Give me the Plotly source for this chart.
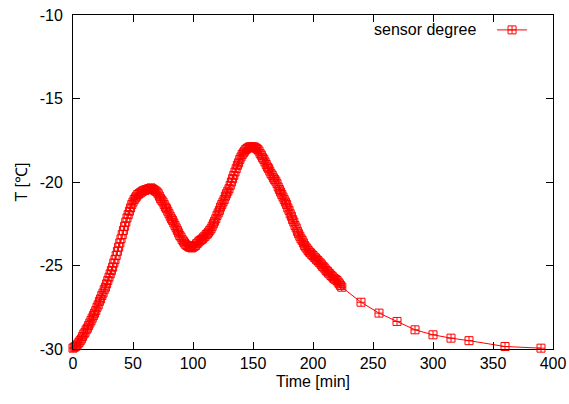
import plotly.graph_objects as go

# time in minutes: dense logging every minute up to 224 min, then sparse readings
time_dense = list(range(0, 225))
time_sparse = [240, 255, 270, 285, 300, 315, 330, 360, 390]

# temperature in degrees C (dense part, one value per minute)
temp_dense = [
    -29.95, -29.9, -29.85, -29.8, -29.7, -29.6, -29.5, -29.4, -29.25, -29.1,
    -29.0, -28.85, -28.75, -28.6, -28.45, -28.3, -28.15, -28.0, -27.85, -27.7,
    -27.5, -27.35, -27.15, -27.0, -26.8, -26.65, -26.45, -26.3, -26.1, -25.9,
    -25.7, -25.5, -25.3, -25.1, -24.85, -24.65, -24.4, -24.15, -23.9, -23.65,
    -23.4, -23.15, -22.9, -22.65, -22.4, -22.15, -21.95, -21.75, -21.55, -21.35,
    -21.2, -21.05, -20.95, -20.85, -20.75, -20.7, -20.65, -20.6, -20.55, -20.5,
    -20.5, -20.45, -20.45, -20.4, -20.4, -20.35, -20.4, -20.45, -20.5, -20.55,
    -20.6, -20.7, -20.85, -21.0, -21.1, -21.2, -21.35, -21.5, -21.6, -21.75,
    -21.9, -22.05, -22.2, -22.3, -22.45, -22.6, -22.75, -22.9, -23.05, -23.2,
    -23.3, -23.45, -23.55, -23.65, -23.75, -23.8, -23.85, -23.9, -23.9, -23.95,
    -23.9, -23.85, -23.8, -23.7, -23.65, -23.55, -23.5, -23.45, -23.4, -23.3,
    -23.25, -23.15, -23.1, -23.0, -22.9, -22.8, -22.65, -22.5, -22.35, -22.2,
    -22.0, -21.85, -21.7, -21.5, -21.35, -21.2, -21.05, -20.85, -20.7, -20.55,
    -20.4, -20.2, -20.0, -19.8, -19.6, -19.4, -19.2, -19.0, -18.85, -18.65,
    -18.5, -18.35, -18.25, -18.15, -18.05, -18.0, -17.95, -17.9, -17.9, -17.9,
    -17.9, -17.9, -17.95, -18.0, -18.05, -18.15, -18.3, -18.4, -18.55, -18.65,
    -18.8, -18.95, -19.1, -19.2, -19.35, -19.5, -19.6, -19.75, -19.85, -19.95,
    -20.1, -20.3, -20.45, -20.6, -20.75, -20.9, -21.05, -21.2, -21.35, -21.55,
    -21.7, -21.9, -22.05, -22.25, -22.4, -22.6, -22.75, -22.95, -23.1, -23.25,
    -23.4, -23.5, -23.65, -23.8, -23.9, -24.0, -24.1, -24.2, -24.25, -24.35,
    -24.4, -24.5, -24.55, -24.65, -24.7, -24.8, -24.85, -24.95, -25.05, -25.1,
    -25.2, -25.3, -25.35, -25.45, -25.5, -25.6, -25.65, -25.75, -25.8, -25.85,
    -25.9, -26.0, -26.1, -26.2, -26.3,
]
temp_sparse = [-27.2, -27.85, -28.35, -28.85, -29.15, -29.35, -29.5, -29.85, -29.95]

time_min = time_dense + time_sparse
temp_c = temp_dense + temp_sparse

x_ticks = [0, 50, 100, 150, 200, 250, 300, 350, 400]
x_tick_labels = ["0", "50", "100", "150", "200", "250", "300", "350", "400"]
y_ticks = [-30, -25, -20, -15, -10]
y_tick_labels = ["-30", "-25", "-20", "-15", "-10"]
series_name = "sensor degree"

FONT = "Liberation Sans, Arial, Helvetica, sans-serif"

fig = go.Figure()
fig.add_trace(go.Scatter(
    x=time_min, y=temp_c, mode="lines+markers", name=" ",
    line=dict(color="#ff0000", width=1),
    marker=dict(symbol="square-cross-open", size=8, color="#ff0000",
                line=dict(color="#ff0000", width=1)),
    cliponaxis=False,
))

axis_common = dict(
    showline=True, linecolor="black", linewidth=1, mirror="ticks",
    ticks="inside", ticklen=7, tickwidth=1, tickcolor="black",
    showgrid=False, zeroline=False, automargin=False,
    tickfont=dict(family=FONT, size=16, color="black"),
)

fig.update_layout(
    width=569, height=404,
    margin=dict(l=73, r=16, t=15, b=55),
    paper_bgcolor="white", plot_bgcolor="white",
    font=dict(family=FONT, size=16, color="black"),
    xaxis=dict(range=[0, 400], tickvals=x_ticks, ticktext=x_tick_labels,
               title=dict(text="Time [min]", font=dict(family=FONT, size=16), standoff=4),
               **axis_common),
    yaxis=dict(range=[-30, -10], tickvals=y_ticks, ticktext=y_tick_labels,
               ticklabelstandoff=6,
               title=dict(text="T [℃]", font=dict(family=FONT, size=16), standoff=8),
               **axis_common),
    showlegend=True,
    legend=dict(x=0.873, y=1.006, xanchor="left", yanchor="top",
                bgcolor="rgba(0,0,0,0)", borderwidth=0,
                font=dict(family=FONT, size=16), itemwidth=30),
    annotations=[dict(text=series_name, xref="paper", yref="paper",
                      x=0.84375, y=0.958, xanchor="right", yanchor="middle",
                      showarrow=False, font=dict(family=FONT, size=16, color="black"))],
)

fig.write_html("out.html")
